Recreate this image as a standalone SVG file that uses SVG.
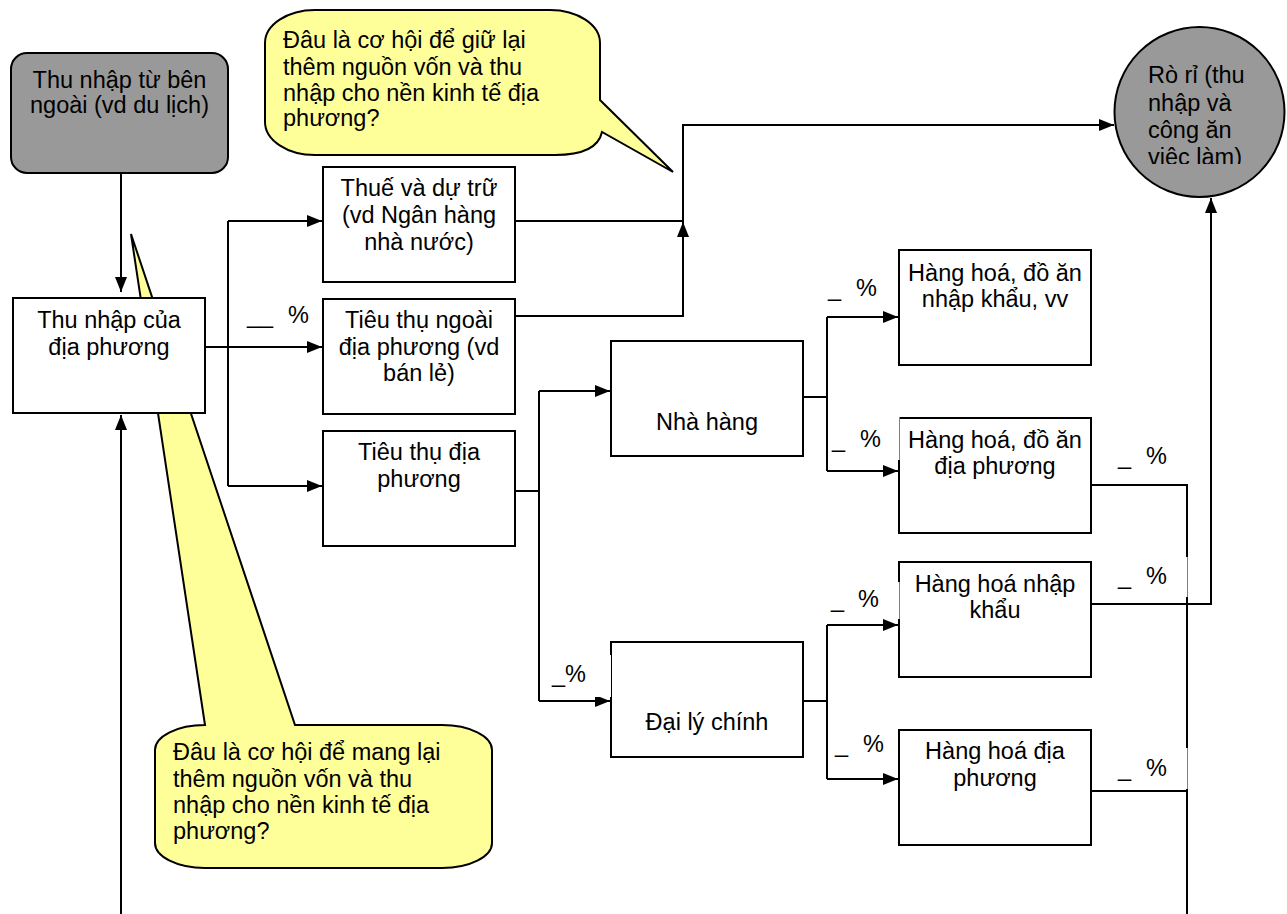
<svg xmlns="http://www.w3.org/2000/svg" width="1287" height="914" viewBox="0 0 1287 914">
<defs>
<style>
.box{fill:#fff;stroke:#000;stroke-width:2}
.grey{fill:#999;stroke:#000;stroke-width:2}
.callout{fill:#ffff99;stroke:#000;stroke-width:2;stroke-linejoin:miter}
.t{font-family:"Liberation Sans",Arial,Helvetica,sans-serif;font-size:23.5px;fill:#000}
.c{text-anchor:middle}
.conn{fill:none;stroke:#000;stroke-width:2}
.arr{marker-end:url(#ah)}
.bg{fill:#fff;stroke:none}
</style>
<marker id="ah" viewBox="0 0 15 12" refX="15" refY="6" markerWidth="15" markerHeight="12" markerUnits="userSpaceOnUse" orient="auto">
<path d="M0,0 L15,6 L0,12 Z" fill="#000"/>
</marker>
<clipPath id="circClip"><rect x="1115" y="30" width="170" height="134"/></clipPath>
</defs>
<rect width="1287" height="914" fill="#fff"/>

<g id="callout-bottom">
<path class="callout" d="M205,725 L131,234 L295,725 H442 A50 25 0 0 1 492,750 V843 A50 25 0 0 1 442,868 H205 A50 25 0 0 1 155,843 V750 A50 25 0 0 1 205,725 Z"/>
<text class="t"><tspan x="173" y="760">Đâu là cơ hội để mang lại</tspan><tspan x="173" y="787">thêm nguồn vốn và thu</tspan><tspan x="173" y="813">nhập cho nền kinh tế địa</tspan><tspan x="173" y="839">phương?</tspan></text>
</g>

<g id="callout-top">
<path class="callout" d="M315,10 H550 A50 33 0 0 1 600,43 V100 L673,172 L602,132 Q597,155 555,155 H315 A50 33 0 0 1 265,122 V43 A50 33 0 0 1 315,10 Z"/>
<text class="t"><tspan x="283" y="48">Đâu là cơ hội để giữ lại</tspan><tspan x="283" y="75">thêm nguồn vốn và thu</tspan><tspan x="283" y="101">nhập cho nền kinh tế địa</tspan><tspan x="283" y="126">phương?</tspan></text>
</g>

<g id="connectors">
<path class="conn arr" d="M121,173 V292"/>
<path class="conn arr" d="M121,914 V415"/>
<path class="conn arr" d="M205,347 H322"/>
<path class="conn" d="M228,221 V486"/>
<path class="conn arr" d="M228,221 H322"/>
<path class="conn arr" d="M228,486 H322"/>
<path class="conn" d="M515,221 H683"/>
<path class="conn arr" d="M515,316 H683 V222"/>
<path class="conn arr" d="M683,222 V125 H1114"/>
<path class="conn" d="M515,491 H539"/>
<path class="conn" d="M539,391 V701"/>
<path class="conn arr" d="M539,391 H610"/>
<path class="conn arr" d="M539,701 H610"/>
<path class="conn" d="M803,397 H827"/>
<path class="conn" d="M827,317 V471"/>
<path class="conn arr" d="M827,317 H898"/>
<path class="conn arr" d="M827,471 H898"/>
<path class="conn" d="M803,701 H827"/>
<path class="conn" d="M827,625 V779"/>
<path class="conn arr" d="M827,625 H898"/>
<path class="conn arr" d="M827,779 H898"/>
<path class="conn" d="M1091,485 H1187 V914"/>
<path class="conn arr" d="M1091,604 H1211 V198"/>
<path class="conn" d="M1091,791 H1187"/>
</g>

<g id="n-external">
<rect class="grey" x="11" y="53" width="217" height="120" rx="16"/>
<text class="t c"><tspan x="119.5" y="88">Thu nhập từ bên</tspan><tspan x="119.5" y="113">ngoài (vd du lịch)</tspan></text>
</g>

<g id="n-local-income">
<rect class="box" x="13" y="298" width="192" height="115"/>
<text class="t c"><tspan x="109" y="328">Thu nhập của</tspan><tspan x="109" y="355">địa phương</tspan></text>
</g>

<g id="n-tax">
<rect class="box" x="323" y="167" width="192" height="115"/>
<text class="t c"><tspan x="419" y="196">Thuế và dự trữ</tspan><tspan x="419" y="223">(vd Ngân hàng</tspan><tspan x="419" y="250">nhà nước)</tspan></text>
</g>

<g id="n-outside">
<rect class="box" x="323" y="299" width="192" height="115"/>
<text class="t c"><tspan x="419" y="328">Tiêu thụ ngoài</tspan><tspan x="419" y="355">địa phương (vd</tspan><tspan x="419" y="381">bán lẻ)</tspan></text>
</g>

<g id="n-local-cons">
<rect class="box" x="323" y="431" width="192" height="115"/>
<text class="t c"><tspan x="419" y="460">Tiêu thụ địa</tspan><tspan x="419" y="487">phương</tspan></text>
</g>

<g id="n-restaurant">
<rect class="box" x="611" y="341" width="192" height="115"/>
<text class="t c" x="707" y="430">Nhà hàng</text>
</g>

<g id="n-agent">
<rect class="box" x="611" y="642" width="192" height="115"/>
<text class="t c" x="707" y="730">Đại lý chính</text>
</g>

<g id="n-imported-food">
<rect class="box" x="899" y="250" width="192" height="115"/>
<text class="t c"><tspan x="995" y="281">Hàng hoá, đồ ăn</tspan><tspan x="995" y="307">nhập khẩu, vv</tspan></text>
</g>

<g id="n-local-food">
<rect class="box" x="899" y="418" width="192" height="115"/>
<text class="t c"><tspan x="995" y="448">Hàng hoá, đồ ăn</tspan><tspan x="995" y="474">địa phương</tspan></text>
</g>

<g id="n-imported-goods">
<rect class="box" x="899" y="562" width="192" height="115"/>
<text class="t c"><tspan x="995" y="592">Hàng hoá nhập</tspan><tspan x="995" y="618">khẩu</tspan></text>
</g>

<g id="n-local-goods">
<rect class="box" x="899" y="730" width="192" height="115"/>
<text class="t c"><tspan x="995" y="759">Hàng hoá địa</tspan><tspan x="995" y="786">phương</tspan></text>
</g>

<g id="n-leakage">
<circle class="grey" cx="1199.5" cy="112" r="85"/>
<text class="t" clip-path="url(#circClip)"><tspan x="1148" y="83">Rò rỉ (thu</tspan><tspan x="1148" y="111">nhập và</tspan><tspan x="1148" y="138">công ăn</tspan><tspan x="1148" y="165">viêc làm)</tspan></text>
</g>

<g id="labels">
<rect class="bg" x="1105" y="557" width="82.5" height="40"/>
<rect class="bg" x="1105" y="748" width="82.5" height="41"/>
<rect class="bg" x="545" y="655" width="66" height="42"/>
<rect class="bg" x="829" y="417" width="70.5" height="43"/>
<rect class="bg" x="829" y="582" width="70.5" height="37"/>
<text class="t"><tspan x="247" y="323">__</tspan><tspan x="288" y="323">%</tspan></text>
<text class="t"><tspan x="828" y="296">_</tspan><tspan x="856" y="296">%</tspan></text>
<text class="t"><tspan x="832" y="447">_</tspan><tspan x="860" y="447">%</tspan></text>
<text class="t"><tspan x="1118" y="464">_</tspan><tspan x="1146" y="464">%</tspan></text>
<text class="t"><tspan x="1118" y="584">_</tspan><tspan x="1146" y="584">%</tspan></text>
<text class="t"><tspan x="1118" y="776">_</tspan><tspan x="1146" y="776">%</tspan></text>
<text class="t" x="552" y="682">_%</text>
<text class="t"><tspan x="831" y="607">_</tspan><tspan x="858" y="607">%</tspan></text>
<text class="t"><tspan x="835" y="752">_</tspan><tspan x="863" y="752">%</tspan></text>
</g>
</svg>
